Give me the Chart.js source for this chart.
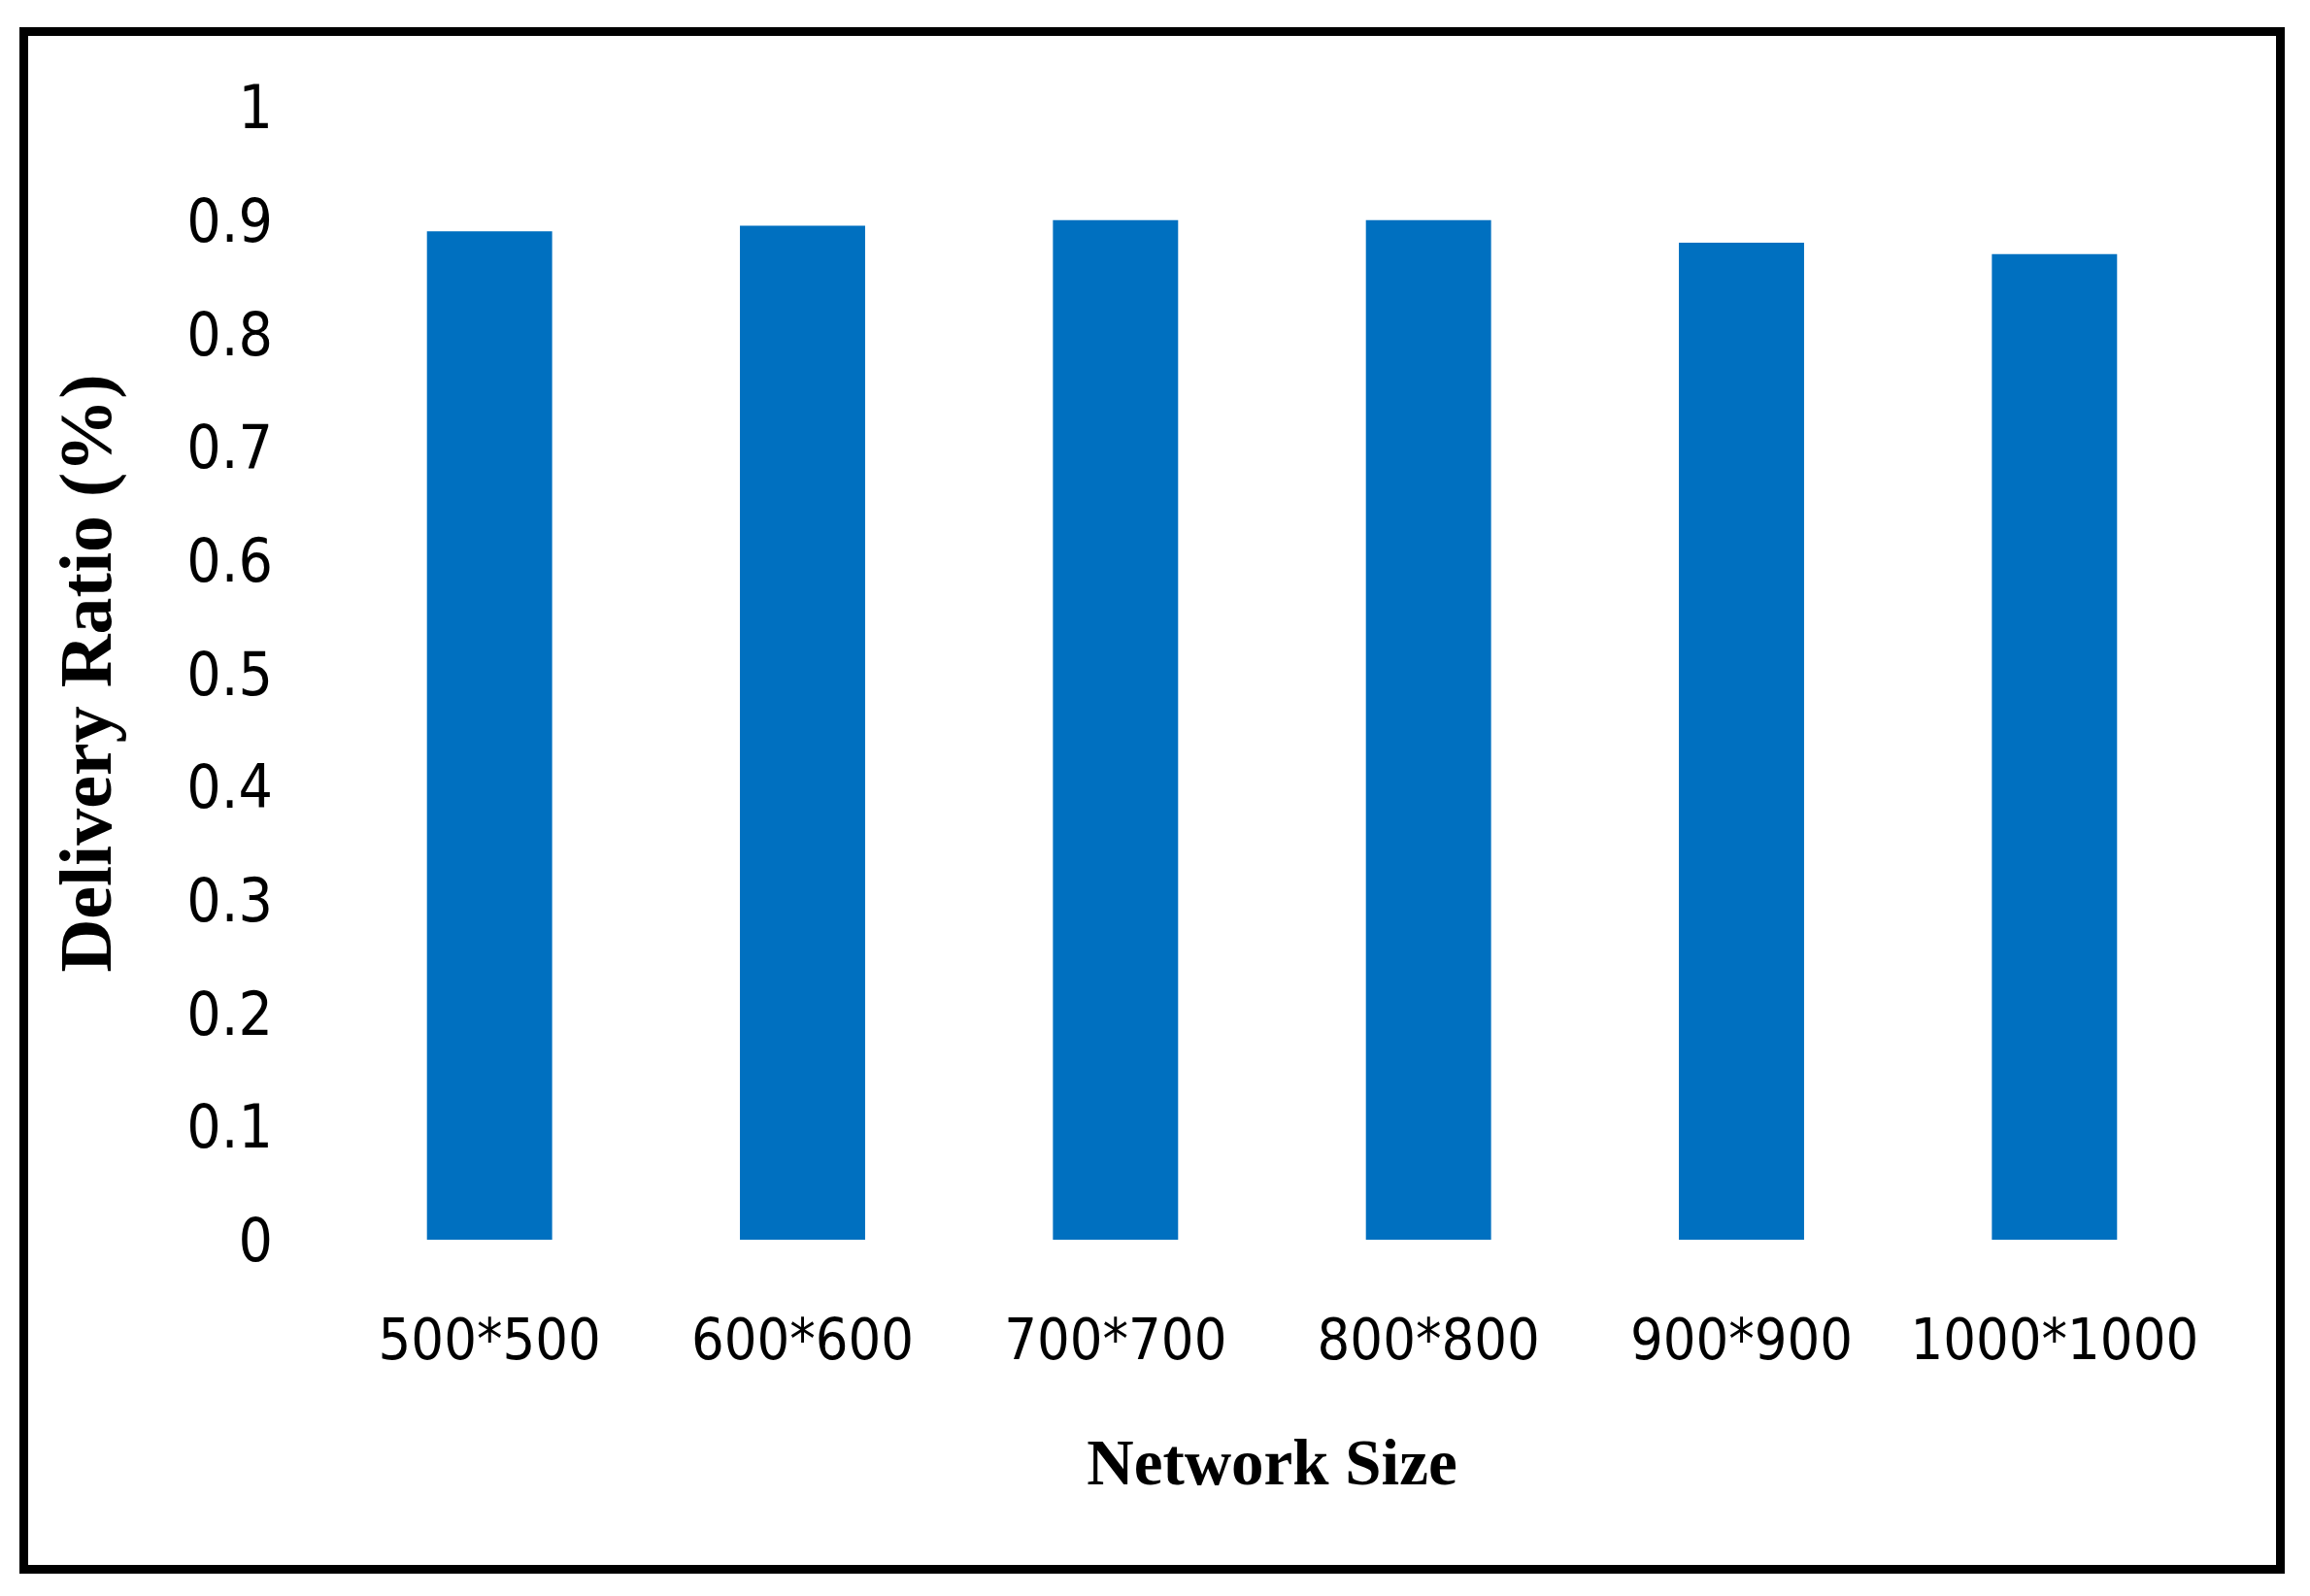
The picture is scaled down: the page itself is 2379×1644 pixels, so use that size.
<!DOCTYPE html>
<html>
<head>
<meta charset="utf-8">
<script src="https://cdn.jsdelivr.net/npm/chart.js@4"></script>
<style>
  html, body { margin: 0; padding: 0; background: #fff; }
  #wrap { position: relative; width: 2379px; height: 1644px; }
</style>
</head>
<body>
<div id="wrap"><canvas id="chart"></canvas></div>
<script>
"use strict";

// data
const sizes = ["500*500", "600*600", "700*700", "800*800", "900*900", "1000*1000"];
const ratios = [0.89, 0.895, 0.9, 0.9, 0.88, 0.87];
const yTicks = [0, 0.1, 0.2, 0.3, 0.4, 0.5, 0.6, 0.7, 0.8, 0.9, 1];

const tickFont = "'Liberation Sans Narrow', 'DejaVu Sans Condensed', 'Arial Narrow', sans-serif";
const titleFont = "'Liberation Serif', 'Times New Roman', serif";

// outer frame round the whole figure
const framePlugin = {
    id: "frame",
    afterDraw(chart) {
        const c = chart.ctx;
        c.save();
        c.strokeStyle = "#000";
        c.lineWidth = 9;
        c.strokeRect(24.5, 32.5, 2324, 1584);
        c.restore();
    }
};

const ctx = document.getElementById("chart").getContext("2d");
new Chart(ctx, {
    type: "bar",
    data: {
        labels: sizes,
        datasets: [{
            data: ratios,
            backgroundColor: "#0070C0",
            borderWidth: 0,
            categoryPercentage: 1.0,
            barPercentage: 0.4
        }]
    },
    options: {
        responsive: true,
        maintainAspectRatio: false,
        animation: false,
        devicePixelRatio: 1,
        layout: { padding: { top: 110, right: 102, bottom: 0, left: 0 } },
        plugins: {
            legend: { display: false },
            tooltip: { enabled: false }
        },
        scales: {
            x: {
                grid: { display: false, drawTicks: false },
                border: { display: false },
                ticks: {
                    color: "#000",
                    font: { family: tickFont, size: 59 },
                    padding: 72,
                    maxRotation: 0,
                    autoSkip: false
                },
                title: {
                    display: true,
                    text: "Network Size",
                    color: "#000",
                    font: { family: titleFont, size: 67, weight: "bold", lineHeight: 1.0 },
                    padding: { top: 0, bottom: 99 }
                },
                afterFit(scale) { scale.height = 367; }
            },
            y: {
                min: 0,
                max: 1,
                afterBuildTicks(scale) { scale.ticks = yTicks.map(v => ({ value: v })); },
                grid: { display: false, drawTicks: false },
                border: { display: false },
                ticks: {
                    color: "#000",
                    font: { family: tickFont, size: 62 },
                    padding: 62,
                    labelOffset: 6,
                    callback: v => String(v)
                },
                title: {
                    display: true,
                    text: "Delivery Ratio (%)",
                    color: "#000",
                    font: { family: titleFont, size: 76, weight: "bold", lineHeight: 1.0 },
                    padding: { top: 56, bottom: 0 }
                },
                afterFit(scale) { scale.width = 343; }
            }
        }
    },
    plugins: [framePlugin]
});
</script>
</body>
</html>
